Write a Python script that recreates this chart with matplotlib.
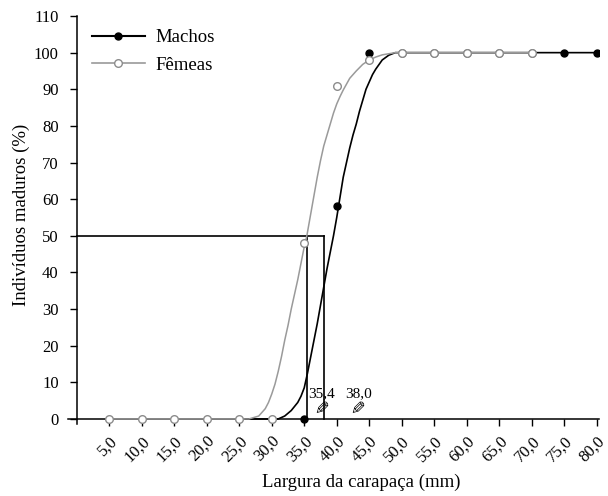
import matplotlib.pyplot as plt

# Observed maturity (%) per size class
classes = [5.0, 10.0, 15.0, 20.0, 25.0, 30.0, 35.0, 40.0, 45.0, 50.0,
           55.0, 60.0, 65.0, 70.0, 75.0, 80.0]
machos_x = [35.0, 40.0, 45.0, 50.0, 55.0, 60.0, 65.0, 70.0, 75.0, 80.0]
machos_y = [0, 58, 100, 100, 100, 100, 100, 100, 100, 100]
femeas_x = [5.0, 10.0, 15.0, 20.0, 25.0, 30.0, 35.0, 40.0, 45.0, 50.0,
            55.0, 60.0, 65.0, 70.0]
femeas_y = [0, 0, 0, 0, 0, 0, 48, 91, 98, 100, 100, 100, 100, 100]

# Fitted maturity curves
curva_m_x = [26.0, 31.0, 32.0, 33.0, 34.0, 34.5, 35.0, 35.5, 36.0, 36.5,
             37.0, 37.5, 38.0, 38.5, 39.0, 39.5, 40.0, 40.5, 41.0, 41.5,
             42.0, 42.5, 43.0, 43.5, 44.0, 44.5, 45.0, 45.5, 46.0, 47.0,
             48.0, 49.0]
curva_m_y = [0, 0, 0.8, 2.3, 4.5, 6.2, 8.5, 12.5, 17, 21.5,
             26, 31, 36, 41, 45.5, 50, 55, 60.5, 66, 70,
             74, 77.5, 80.5, 84, 87, 90, 92, 94, 95.5, 98,
             99.3, 100]
curva_f_x = [25.0, 26.5, 28.0, 29.0, 29.5, 30.0, 30.5, 31.0, 31.5, 32.0,
             32.5, 33.0, 33.5, 34.0, 34.5, 35.0, 35.4, 36.0, 36.5, 37.0,
             37.5, 38.0, 38.5, 39.0, 39.5, 40.0, 40.5, 41.0, 42.0, 43.0,
             44.0, 45.0, 46.0, 47.0, 48.0, 49.0]
curva_f_y = [0, 0, 0.8, 2.8, 4.5, 6.8, 9.5, 13, 17, 21.5,
             25.5, 30, 34, 38, 42.5, 47, 50, 56, 61, 66,
             70.5, 74.5, 77.5, 80.5, 83.5, 86, 88, 89.8, 93, 95,
             96.8, 98, 98.8, 99.4, 99.7, 100]

# Size at 50% maturity
cw50_femeas = 35.4
cw50_machos = 38.0

cinza = "#9a9a9a"

plt.rcParams["font.family"] = ["Liberation Serif", "DejaVu Serif"]

fig = plt.figure(figsize=(6.08, 4.96), dpi=100)
ax = fig.add_axes([0.1123, 0.145, 0.8724, 0.8227])

# lines: fitted curve joined to the flat observed points
mx = curva_m_x + [x for x in machos_x if x >= 50]
my = curva_m_y + [y for x, y in zip(machos_x, machos_y) if x >= 50]
fx = [x for x in femeas_x if x <= 25] + curva_f_x + [x for x in femeas_x if x >= 50]
fy = ([y for x, y in zip(femeas_x, femeas_y) if x <= 25] + curva_f_y
      + [y for x, y in zip(femeas_x, femeas_y) if x >= 50])

ax.plot(mx, my, color="black", lw=1.2, zorder=3)
ax.plot(machos_x, machos_y, "o", color="black", ms=5, zorder=4)
ax.plot(fx, fy, color=cinza, lw=1.1, zorder=5)
ax.plot(femeas_x, femeas_y, "o", mfc="white", mec="#8c8c8c", mew=1.0, ms=5.5, zorder=6)

# 50% reference lines
ax.plot([0, cw50_machos], [50, 50], color="black", lw=1.2, zorder=2)
ax.plot([cw50_femeas, cw50_femeas], [0, 50], color="black", lw=1.2, zorder=2)
ax.plot([cw50_machos, cw50_machos], [0, 50], color="black", lw=1.2, zorder=2)

ax.text(35.6, 7.0, "35,4", fontsize=11, va="center", ha="left")
ax.text(41.3, 7.0, "38,0", fontsize=11, va="center", ha="left")
ax.text(37.0, 3.1, "\u270e", fontsize=13, rotation=-90, ha="center", va="center",
        family=["DejaVu Sans"])
ax.text(42.6, 3.1, "\u270e", fontsize=13, rotation=-90, ha="center", va="center",
        family=["DejaVu Sans"])

# legend handles
lm, = ax.plot([], [], "-o", color="black", lw=1.5, ms=5)
lf, = ax.plot([], [], "-o", color=cinza, mfc="white", mec="#8c8c8c", lw=1.2, ms=5.5)
ax.legend([lm, lf], ["Machos", "Fêmeas"], loc="upper left",
          bbox_to_anchor=(0.045, 0.968), frameon=False, fontsize=13.5,
          handlelength=2.8, handletextpad=0.55, labelspacing=0.55,
          borderpad=0, borderaxespad=0)

ax.set_xlim(-1.3, 80.3)
ax.set_ylim(-1.4, 110)
ax.spines["left"].set_position(("data", 0))
ax.spines["bottom"].set_position(("data", 0))
ax.spines["top"].set_visible(False)
ax.spines["right"].set_visible(False)
for s in ("left", "bottom"):
    ax.spines[s].set_linewidth(1.1)

ax.set_yticks(range(0, 111, 10))
ax.set_xticks(classes)
ax.set_xticklabels([f"{c:.1f}".replace(".", ",") for c in classes],
                   rotation=45, ha="right", va="top", rotation_mode="anchor")
ax.tick_params(axis="both", direction="out", length=5, width=1.0, labelsize=12)
ax.tick_params(axis="x", pad=5)
ax.tick_params(axis="y", pad=8)

ax.set_xlabel("Largura da carapaça (mm)", fontsize=13.5)
ax.set_ylabel("Indivíduos maduros (%)", fontsize=13.5)
ax.xaxis.set_label_coords(0.552, -0.122)
ax.yaxis.set_label_coords(-0.072, 0.512)

fig.savefig("out.png", dpi=100)
